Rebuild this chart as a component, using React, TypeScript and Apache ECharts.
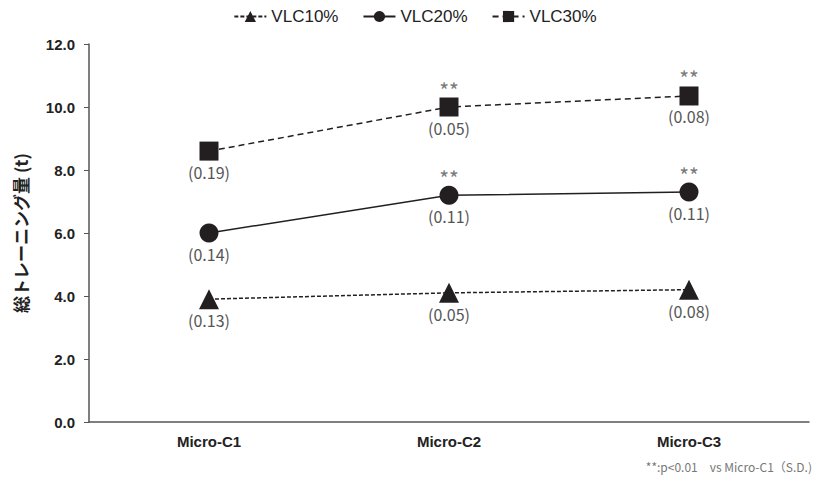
import React, { useEffect, useRef } from "react";
import * as echarts from "echarts";

const categories = ["Micro-C1", "Micro-C2", "Micro-C3"];
const seriesNames = ["VLC10%", "VLC20%", "VLC30%"];
const vlc10 = [3.9, 4.1, 4.2];
const vlc20 = [6.0, 7.2, 7.3];
const vlc30 = [8.6, 10.0, 10.35];
const sd10 = ["(0.13)", "(0.05)", "(0.08)"];
const sd20 = ["(0.14)", "(0.11)", "(0.11)"];
const sd30 = ["(0.19)", "(0.05)", "(0.08)"];
const sig20 = ["", "**", "**"];
const sig30 = ["", "**", "**"];
const yTicks = { min: 0, max: 12, interval: 2 };

const INK = "#231f20";
const GRAY = "#555";

export default function App() {
  const ref = useRef<HTMLDivElement>(null);
  useEffect(() => {
    const chart = echarts.init(ref.current!, null, { renderer: "svg" });
    const mkLine = (
      name: string,
      data: number[],
      sd: string[],
      symbol: string,
      type: any
    ) => ({
      name,
      type: "line",
      data,
      symbol,
      symbolSize: symbol === "triangle" ? 20 : 19,
      lineStyle: { color: INK, width: 1.5, type },
      itemStyle: { color: INK },
      label: {
        show: true,
        position: "bottom",
        distance: 3,
        formatter: (p: any) => sd[p.dataIndex],
        color: GRAY,
        fontSize: 16,
        fontFamily: "Noto Sans CJK JP",
      },
      z: 3,
    });
    const mkSig = (data: number[], sig: string[]) => ({
      type: "scatter",
      data,
      symbol: "circle",
      symbolSize: 18,
      itemStyle: { color: "rgba(0,0,0,0)" },
      silent: true,
      label: {
        show: true,
        position: "top",
        distance: -2,
        formatter: (p: any) => sig[p.dataIndex],
        color: GRAY,
        fontSize: 21,
        fontFamily: "Noto Sans CJK JP",
      },
      z: 1,
    });
    chart.setOption({
      animation: false,
      legend: {
        data: seriesNames,
        top: 0,
        left: "center",
        padding: 0,
        itemWidth: 32,
        itemHeight: 14,
        itemGap: 24,
        textStyle: { fontSize: 17, color: "#222", fontFamily: "Liberation Sans" },
      },
      grid: { left: 81, right: 13, top: 36, bottom: 59, outerBoundsMode: "none", containLabel: false },
      xAxis: {
        type: "category",
        data: categories,
        axisLine: { lineStyle: { color: "#555", width: 1.5 } },
        axisTick: { show: false },
        axisLabel: {
          color: "#222",
          fontWeight: "bold",
          fontSize: 15,
          fontFamily: "Liberation Sans",
          margin: 12,
        },
      },
      yAxis: {
        type: "value",
        min: yTicks.min,
        max: yTicks.max,
        interval: yTicks.interval,
        name: "総トレーニング量 (t)",
        nameLocation: "middle",
        nameGap: 60,
        nameTextStyle: {
          color: "#222",
          fontWeight: "bold",
          fontSize: 17,
          fontFamily: "Noto Sans CJK JP",
        },
        splitLine: { show: false },
        axisLine: { show: true, lineStyle: { color: "#555", width: 1.5 } },
        axisTick: { show: true, length: 5, lineStyle: { color: "#555" } },
        axisLabel: {
          formatter: (v: number) => v.toFixed(1),
          color: "#222",
          fontWeight: "bold",
          fontSize: 15,
          fontFamily: "Liberation Sans",
          margin: 14,
        },
      },
      graphic: [
        {
          type: "text",
          x: 804,
          y: 452,
          style: {
            text: "**:p<0.01　vs Micro-C1（S.D.)",
            textAlign: "right",
            fill: "#777",
            fontSize: 12,
            fontFamily: "Noto Sans CJK JP",
          },
        },
      ],
      series: [
        mkLine(seriesNames[0], vlc10, sd10, "triangle", [4, 2]),
        mkLine(seriesNames[1], vlc20, sd20, "circle", "solid"),
        mkLine(seriesNames[2], vlc30, sd30, "rect", [6, 4]),
        mkSig(vlc20, sig20),
        mkSig(vlc30, sig30),
      ],
    });
    return () => chart.dispose();
  }, []);
  return <div ref={ref} style={{ width: 814, height: 473 }} />;
}
